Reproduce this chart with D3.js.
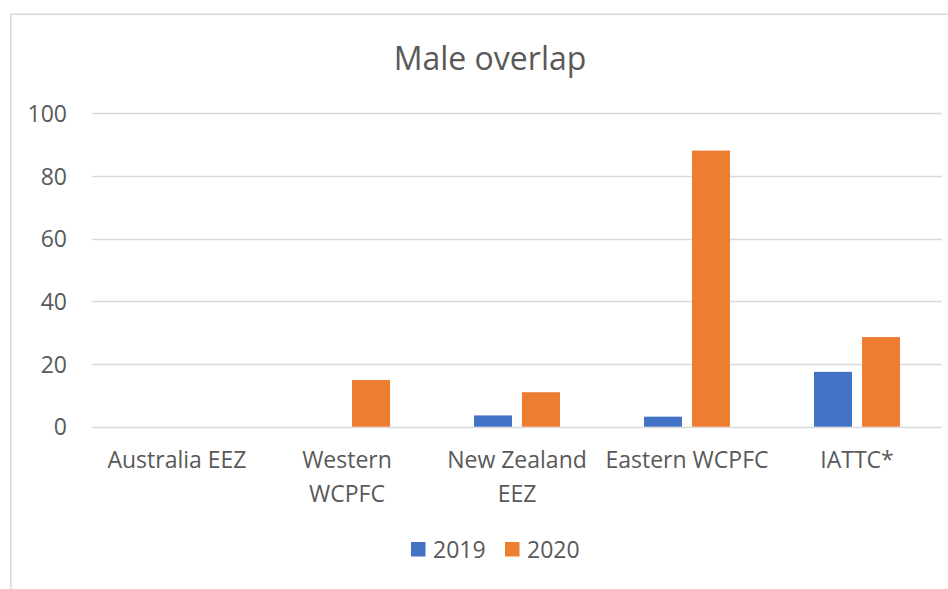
<!DOCTYPE html>
<html>
<head>
<meta charset="utf-8">
<script src="https://cdn.jsdelivr.net/npm/d3@7"></script>
<style>
  html, body { margin: 0; padding: 0; background: #ffffff; }
  svg { display: block; font-family: "Open Sans", "Noto Sans", sans-serif; }
</style>
</head>
<body>
<svg id="chart" width="948" height="589"></svg>
<script>
// Chart data
const title = "Male overlap";
const categories = ["Australia EEZ", "Western\nWCPFC", "New Zealand\nEEZ", "Eastern WCPFC", "IATTC*"];
const years = ["2019", "2020"];
const values2019 = [0, 0, 3.6, 3.2, 17.5];
const values2020 = [0, 14.9, 11.0, 88.1, 28.6];
const yTicks = [0, 20, 40, 60, 80, 100];
const colors = ["#4472c4", "#ed7d31"];

const series = [values2019, values2020];
const rows = categories.map((c, i) => ({ cat: c, vals: years.map((y, j) => ({ year: y, v: series[j][i], idx: j })) }));

const svg = d3.select("#chart");
const textColor = "#595959";
const gridColor = "#d9d9d9";

// Outer chart frame
svg.append("rect")
  .attr("x", 10.75).attr("y", 14.25)
  .attr("width", 1200).attr("height", 1200)
  .attr("fill", "none")
  .attr("stroke", gridColor)
  .attr("stroke-width", 1.5);

const plot = { left: 92, right: 942, top: 113.3, bottom: 426.7 };

const x0 = d3.scaleBand().domain(categories).range([plot.left, plot.right]).padding(0);
const x1 = d3.scaleBand().domain(years).range([-43, 43]).paddingInner(10 / 48).paddingOuter(0);
const y = d3.scaleLinear().domain([0, 100]).range([plot.bottom, plot.top]);

// Title
svg.append("text")
  .attr("x", 490).attr("y", 70)
  .attr("text-anchor", "middle")
  .attr("fill", textColor)
  .attr("font-size", 32)
  .text(title);

// Horizontal gridlines
svg.append("g")
  .selectAll("line")
  .data(yTicks)
  .join("line")
  .attr("x1", plot.left).attr("x2", plot.right)
  .attr("y1", d => Math.round(y(d)) + 0.5)
  .attr("y2", d => Math.round(y(d)) + 0.5)
  .attr("stroke", gridColor)
  .attr("stroke-width", 1.3);

// Y axis labels
const yAxis = d3.axisLeft(y).tickValues(yTicks).tickSize(0).tickPadding(0);
const yg = svg.append("g")
  .attr("transform", `translate(67,0)`)
  .call(yAxis);
yg.select(".domain").remove();
yg.selectAll("text")
  .attr("fill", textColor)
  .attr("font-size", 23)
  .attr("font-family", "'Open Sans', 'Noto Sans', sans-serif")
  .attr("dy", "0.35em");

// Bars
const groups = svg.append("g")
  .selectAll("g")
  .data(rows)
  .join("g")
  .attr("transform", d => `translate(${x0(d.cat) + x0.bandwidth() / 2},0)`);

groups.selectAll("rect")
  .data(d => d.vals.filter(v => v.v > 0))
  .join("rect")
  .attr("x", d => x1(d.year))
  .attr("width", x1.bandwidth())
  .attr("y", d => y(d.v))
  .attr("height", d => y(0) - y(d.v))
  .attr("fill", d => colors[d.idx]);

// Category labels
const xg = svg.append("g");
categories.forEach(c => {
  const lines = c.split("\n");
  const t = xg.append("text")
    .attr("text-anchor", "middle")
    .attr("fill", textColor)
    .attr("font-size", 23);
  lines.forEach((ln, k) => {
    t.append("tspan")
      .attr("x", x0(c) + x0.bandwidth() / 2)
      .attr("y", 468 + k * 33.5)
      .text(ln);
  });
});

// Legend
const legend = svg.append("g");
const legendItems = [{ x: 411, label: years[0], color: colors[0] }, { x: 505, label: years[1], color: colors[1] }];
legendItems.forEach(it => {
  legend.append("rect")
    .attr("x", it.x).attr("y", 542)
    .attr("width", 14.5).attr("height", 14.5)
    .attr("fill", it.color);
  legend.append("text")
    .attr("x", it.x + 22).attr("y", 557.5)
    .attr("fill", textColor)
    .attr("font-size", 23)
    .text(it.label);
});
</script>
</body>
</html>
